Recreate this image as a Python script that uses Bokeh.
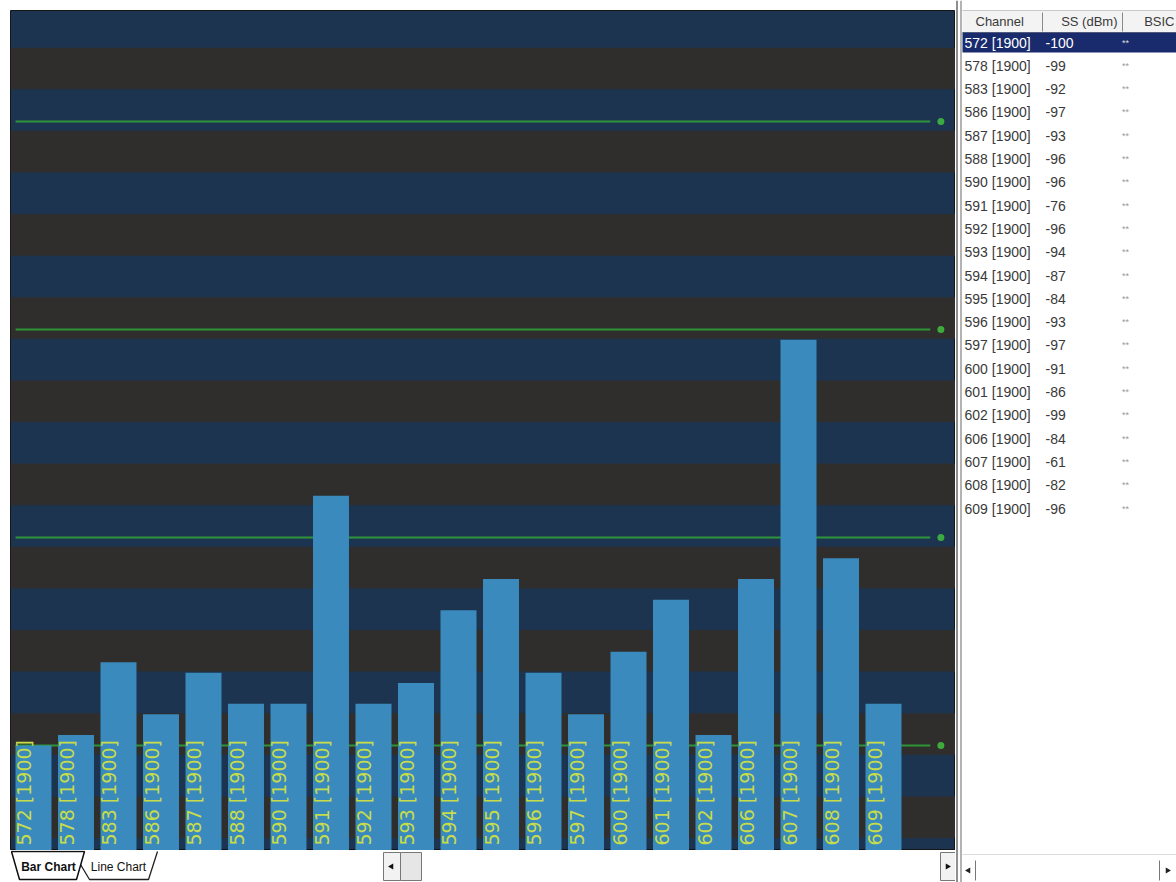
import numpy as np
from bokeh.plotting import figure
from bokeh.layouts import row, column
from bokeh.models import Range1d
from bokeh.core.properties import value
from bokeh.embed import file_html
from bokeh.resources import INLINE

# ---------------- data ----------------
channels = ["572", "578", "583", "586", "587", "588", "590", "591", "592", "593", "594",
            "595", "596", "597", "600", "601", "602", "606", "607", "608", "609"]
band_name = "1900"
ss_dbm = [-100, -99, -92, -97, -93, -96, -96, -76, -96, -94, -87,
          -84, -93, -97, -91, -86, -99, -84, -61, -82, -96]
bsic = ["**"] * len(channels)
threshold_levels = [-40, -60, -80, -100]
table_headers = ["Channel", "SS (dBm)", "BSIC"]
tab_labels = ["Bar Chart", "Line Chart"]

labels = [f"{c} [{band_name}]" for c in channels]
idx = list(range(len(channels)))

Y_MIN, Y_MAX = -110.1, -29.33
X_MIN, X_MAX = -0.541, 21.694

SANS = "Liberation Sans"

# ---------------- chart ----------------
p = figure(width=955, height=850, x_range=Range1d(X_MIN, X_MAX), y_range=Range1d(Y_MIN, Y_MAX),
           output_backend="svg", toolbar_location=None,
           min_border_left=10, min_border_right=0, min_border_top=10, min_border_bottom=0)
p.xaxis.visible = False
p.yaxis.visible = False
p.grid.visible = False
p.background_fill_color = "#1d3451"
p.border_fill_color = "white"
p.outline_line_color = "#151515"

# alternating background bands (4 dB each)
edges = [-32.9 - 4 * k for k in range(20)]
b_top = [edges[k] for k in range(0, 19, 2)]
b_bot = [edges[k + 1] for k in range(0, 19, 2)]
p.quad(left=X_MIN, right=X_MAX, top=b_top, bottom=b_bot, fill_color="#2f2e2d", line_color=None)

# threshold lines
p.segment(x0=X_MIN + 0.12, x1=len(channels) + 0.1, y0=threshold_levels, y1=threshold_levels,
          line_color="#2f9438", line_width=2)
p.scatter(x=[len(channels) + 0.35] * len(threshold_levels), y=threshold_levels, size=7,
          marker="circle", fill_color="#3fbf3f", line_color=None, fill_alpha=0.85)

# bars
p.vbar(x=idx, width=0.847, bottom=Y_MIN, top=ss_dbm, fill_color="#3a8abd", line_color=None)

# vertical bar labels
p.text(x=idx, y=[Y_MIN + 0.48] * len(idx), text=labels, angle=np.pi / 2,
       text_align="left", text_baseline="middle", x_offset=-9,
       text_color="#c6dc4a", text_font=value("DejaVu Sans"), text_font_size="19px")

# ---------------- tab bar ----------------
# (its frame is aligned with the chart frame, which starts 10px from the left)
tb = figure(width=955, height=32, x_range=Range1d(10, 955), y_range=Range1d(882, 850),
            output_backend="svg", toolbar_location=None,
            min_border_left=10, min_border_right=0, min_border_top=0, min_border_bottom=0)
tb.xaxis.visible = False
tb.yaxis.visible = False
tb.grid.visible = False
tb.outline_line_color = None
tb.background_fill_color = "white"
tb.border_fill_color = "white"
tb.line(x=[80, 89, 148, 157], y=[864, 879, 879, 851], line_color="#222", line_width=1.3)
tb.patch(x=[11, 19, 76, 84], y=[851, 879, 879, 851], fill_color="white", line_color="#111", line_width=1.5)
tb.text(x=[48, 118], y=[866, 866], text=tab_labels, text_align="center", text_baseline="middle",
        text_font=value(SANS), text_font_size=["12px", "12px"], text_color="#111",
        text_font_style=["bold", "normal"])
# scrollbar
tb.quad(left=[383, 400, 940], right=[400, 421, 955], top=[852, 852, 852], bottom=[880, 880, 880],
        fill_color=["#f2f2f2", "#e6e6e6", "#f2f2f2"], line_color="#777", line_width=1)
tb.scatter(x=[391, 947], y=[866, 866], marker="triangle", angle=[np.pi / 2, -np.pi / 2],
           size=6, fill_color="#111", line_color=None)

# ---------------- table ----------------
tt = figure(width=221, height=882, x_range=Range1d(955, 1176), y_range=Range1d(882, 0),
            output_backend="svg", toolbar_location=None,
            min_border_left=0, min_border_right=0, min_border_top=0, min_border_bottom=0)
tt.xaxis.visible = False
tt.yaxis.visible = False
tt.grid.visible = False
tt.outline_line_color = None
tt.background_fill_color = "white"

# left double border
tt.segment(x0=[956.5, 960.5], x1=[956.5, 960.5], y0=[0, 0], y1=[882, 882],
           line_color=["#6a6a6a", "#9a9a9a"], line_width=1.5)
# header
tt.quad(left=962, right=1176, top=10, bottom=32, fill_color="#f3f3f3", line_color=None)
tt.segment(x0=962, x1=1176, y0=32, y1=32, line_color="#8a8a8a", line_width=1)
tt.segment(x0=962, x1=1176, y0=10, y1=10, line_color="#c8c8c8", line_width=1)
tt.segment(x0=[1042, 1122], x1=[1042, 1122], y0=[12, 12], y1=[31, 31], line_color="#8a8a8a", line_width=1)
tt.text(x=[975, 1117, 1174], y=[21, 21, 21], text=table_headers,
        text_align=["left", "right", "right"], text_baseline="middle",
        text_font=value(SANS), text_font_size="13px", text_color="#3a3a3a")

# rows
row_y = [42 + i * 23.3 for i in idx]
tt.quad(left=962, right=1176, top=row_y[0] - 10, bottom=row_y[0] + 10, fill_color="#1a2b6d", line_color=None)
txt_col = ["white"] + ["#3a3a3a"] * (len(idx) - 1)
tt.text(x=[964] * len(idx), y=row_y, text=labels, text_align="left", text_baseline="middle",
        text_font=value(SANS), text_font_size="14px", text_color=txt_col)
tt.text(x=[1045] * len(idx), y=row_y, text=[str(v) for v in ss_dbm], text_align="left",
        text_baseline="middle", text_font=value(SANS), text_font_size="14px", text_color=txt_col)
tt.text(x=[1125] * len(idx), y=row_y, text=bsic, text_align="center", text_baseline="middle",
        text_font=value(SANS), text_font_size="9px",
        text_color=["#dddddd"] + ["#9a9a9a"] * (len(idx) - 1))

# bottom scrollbar of the table
tt.segment(x0=[962], x1=[1176], y0=[854], y1=[854], line_color="#dddddd", line_width=1)
tt.segment(x0=[975, 1159], x1=[975, 1159], y0=[860, 860], y1=[880, 880], line_color="#777", line_width=1)
tt.scatter(x=[968, 1167], y=[870, 870], marker="triangle", angle=[np.pi / 2, -np.pi / 2],
           size=6, fill_color="#222", line_color=None)

layout = row(column(p, tb, spacing=0), tt, spacing=0)

open("out.html", "w").write(file_html(layout, INLINE))
